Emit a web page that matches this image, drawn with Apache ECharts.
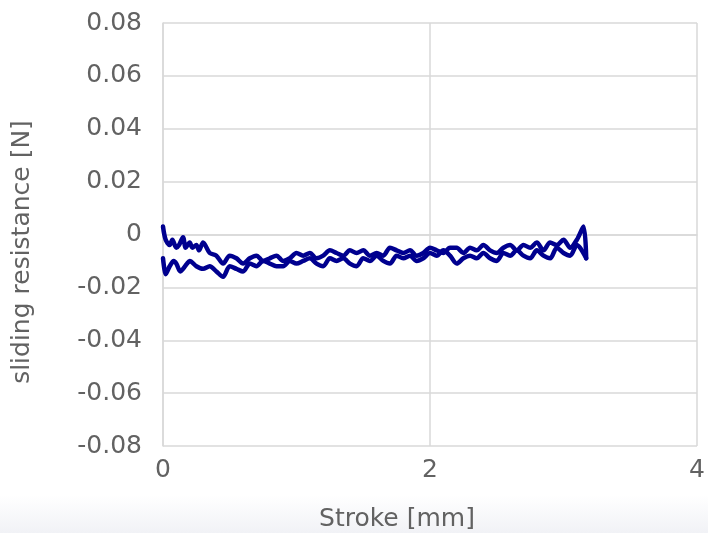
<!DOCTYPE html>
<html><head><meta charset="utf-8">
<script src="https://cdn.jsdelivr.net/npm/echarts@6/dist/echarts.min.js"></script>
<style>html,body{margin:0;padding:0;background:#fff}#c{width:708px;height:533px}</style>
</head><body><div id="c"></div>
<script>
// Forward stroke (lower trace), stroke in mm
const forwardX = [0,0.01,0.02,0.05,0.08,0.1,0.13,0.15,0.18,0.2,0.25,0.3,0.35,0.4,0.45,0.5,0.55,0.6,0.65,0.7,0.75,0.8,0.85,0.9,0.95,1.0,1.05,1.1,1.15,1.2,1.25,1.3,1.35,1.4,1.45,1.5,1.55,1.6,1.65,1.7,1.75,1.8,1.85,1.9,1.95,2.0,2.05,2.1,2.15,2.2,2.25,2.3,2.35,2.4,2.45,2.5,2.55,2.6,2.65,2.7,2.75,2.8,2.85,2.9,2.95,3.0,3.05,3.1,3.17];
const forwardY = [-0.009,-0.013,-0.015,-0.012,-0.010,-0.011,-0.014,-0.013,-0.011,-0.010,-0.012,-0.013,-0.012,-0.014,-0.016,-0.012,-0.013,-0.014,-0.011,-0.012,-0.010,-0.011,-0.012,-0.012,-0.010,-0.011,-0.010,-0.009,-0.011,-0.012,-0.009,-0.010,-0.009,-0.011,-0.012,-0.009,-0.010,-0.008,-0.010,-0.011,-0.008,-0.009,-0.008,-0.010,-0.009,-0.007,-0.008,-0.006,-0.008,-0.011,-0.009,-0.008,-0.009,-0.007,-0.009,-0.010,-0.007,-0.008,-0.006,-0.008,-0.009,-0.006,-0.008,-0.009,-0.005,-0.007,-0.008,-0.004,-0.009];
// Return stroke (upper trace)
const returnX = [3.17,3.15,3.1,3.05,3.0,2.95,2.9,2.85,2.8,2.75,2.7,2.65,2.6,2.55,2.5,2.45,2.4,2.35,2.3,2.25,2.2,2.15,2.1,2.05,2.0,1.95,1.9,1.85,1.8,1.75,1.7,1.65,1.6,1.55,1.5,1.45,1.4,1.35,1.3,1.25,1.2,1.15,1.1,1.05,1.0,0.95,0.9,0.85,0.8,0.75,0.7,0.65,0.6,0.55,0.5,0.45,0.4,0.35,0.3,0.27,0.25,0.22,0.2,0.17,0.15,0.12,0.1,0.07,0.05,0.02,0.0];
const returnY = [-0.009,0.003,-0.002,-0.005,-0.002,-0.004,-0.003,-0.006,-0.003,-0.005,-0.004,-0.006,-0.004,-0.005,-0.007,-0.006,-0.004,-0.006,-0.005,-0.007,-0.005,-0.005,-0.007,-0.006,-0.005,-0.007,-0.008,-0.006,-0.007,-0.006,-0.005,-0.008,-0.007,-0.008,-0.006,-0.007,-0.006,-0.008,-0.007,-0.006,-0.008,-0.009,-0.007,-0.008,-0.007,-0.009,-0.010,-0.008,-0.009,-0.010,-0.008,-0.009,-0.011,-0.009,-0.008,-0.011,-0.008,-0.007,-0.003,-0.006,-0.004,-0.005,-0.003,-0.005,-0.001,-0.004,-0.005,-0.002,-0.004,-0.002,0.003];
const xTicks = [0,2,4];
const yTicks = [-0.08,-0.06,-0.04,-0.02,0,0.02,0.04,0.06,0.08];
const xTitle = 'Stroke [mm]';
const yTitle = 'sliding resistance [N]';

const font = '"DejaVu Sans", sans-serif';
const txt = '#626262';
const chart = echarts.init(document.getElementById('c'));
chart.setOption({
  animation:false,
  backgroundColor:'#fff',
  graphic:[
    {type:'rect',z:-10,shape:{x:0,y:495,width:708,height:38},
     style:{fill:new echarts.graphic.LinearGradient(0,0,0,1,[{offset:0,color:'#ffffff'},{offset:1,color:'#f1f2f6'}])}},
    {type:'text',x:397,y:519,style:{text:xTitle,fontFamily:font,fontSize:25,fill:txt,align:'center',verticalAlign:'middle'}},
    {type:'text',x:22,y:252,rotation:Math.PI/2,style:{text:yTitle,fontFamily:font,fontSize:25,fill:txt,align:'center',verticalAlign:'middle'}}
  ],
  grid:{left:163,right:11,top:23,bottom:87},
  xAxis:{type:'value',min:0,max:4,interval:2,
    axisLine:{show:true,lineStyle:{color:'#d9d9d9',width:1.5}},axisTick:{show:false},
    axisLabel:{fontFamily:font,fontSize:25,color:txt,margin:12,formatter:v=>String(v)},
    splitLine:{show:true,lineStyle:{color:'#d9d9d9',width:1.5}}},
  yAxis:{type:'value',min:-0.08,max:0.08,interval:0.02,
    axisLine:{show:true,lineStyle:{color:'#d9d9d9',width:1.5}},axisTick:{show:false},
    axisLabel:{fontFamily:font,fontSize:25,color:txt,margin:21,
      formatter:v=>{const r=Math.round(v*100)/100; return r===0?'0':r.toFixed(2);}},
    splitLine:{show:true,lineStyle:{color:'#d9d9d9',width:1.5}}},
  series:[
    {type:'line',showSymbol:false,data:forwardX.map((x,i)=>[x,forwardY[i]]),
     lineStyle:{color:'#00008f',width:4.5,join:'round',cap:'round'},itemStyle:{color:'#00008f'},smooth:0.3},
    {type:'line',showSymbol:false,data:returnX.map((x,i)=>[x,returnY[i]]),
     lineStyle:{color:'#00008f',width:4.5,join:'round',cap:'round'},itemStyle:{color:'#00008f'},smooth:0.3}
  ]
});
</script></body></html>
